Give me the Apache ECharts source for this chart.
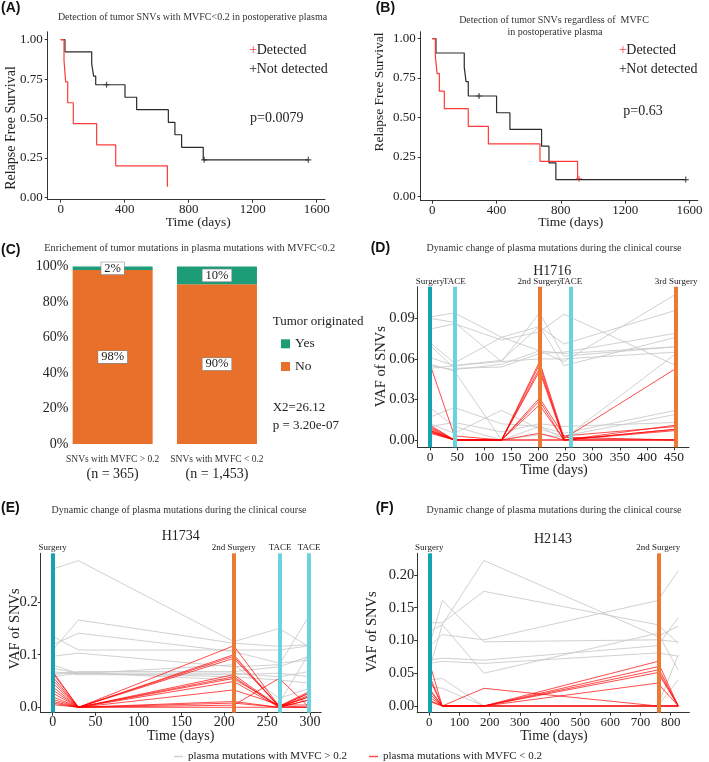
<!DOCTYPE html>
<html><head><meta charset="utf-8">
<script src="https://cdn.jsdelivr.net/npm/echarts@6/dist/echarts.min.js"></script>
<style>html,body{margin:0;padding:0;background:#fff}#c{width:709px;height:762px}</style>
</head><body><div id="c"></div>
<script>
// ---------- Panel A : KM, tumor SNVs with MVFC<0.2 ----------
const aDetDays = [0, 21, 31, 44, 79, 225, 344, 667];
const aDetSurv = [1, 0.867, 0.733, 0.6, 0.467, 0.333, 0.2, 0.067];
const aNotDays = [0, 27, 194, 206, 219, 402, 475, 673, 714, 756, 891, 1548];
const aNotSurv = [1, 0.923, 0.846, 0.769, 0.714, 0.635, 0.556, 0.476, 0.397, 0.317, 0.238, 0.238];
const aNotCensorDays = [287, 897, 1548];
const aNotCensorSurv = [0.714, 0.238, 0.238];
const aPValue = 'p=0.0079';
// ---------- Panel B : KM, regardless of MVFC ----------
const bDetDays = [0, 19, 30, 44, 75, 224, 349, 670, 904, 913];
const bDetSurv = [1, 0.889, 0.778, 0.667, 0.556, 0.444, 0.333, 0.222, 0.111, 0.111];
const bDetCensorDays = [913];
const bDetCensorSurv = [0.111];
const bNotDays = [0, 23, 199, 210, 224, 400, 483, 680, 726, 769, 1577];
const bNotSurv = [1, 0.909, 0.818, 0.727, 0.636, 0.530, 0.424, 0.318, 0.212, 0.106, 0.106];
const bNotCensorDays = [291, 1577];
const bNotCensorSurv = [0.636, 0.106];
const bPValue = 'p=0.63';
const kmTimeTicks = [0, 400, 800, 1200, 1600];
const kmSurvTicks = [0, 0.25, 0.5, 0.75, 1];
// ---------- Panel C : stacked percentages ----------
const cCategories = ['SNVs with MVFC > 0.2', 'SNVs with MVFC < 0.2'];
const cCounts = ['(n = 365)', '(n = 1,453)'];
const cNo = [98, 90];
const cYes = [2, 10];
// ---------- Panel D : H1716 ----------
const dDays = [0, 45, 132, 202, 247, 454];
const dGrey = [
  [0.091, 0.094, 0.076, 0.084, 0.071, 0.096],
  [0.090, 0.087, 0.058, 0.094, 0.062, 0.069],
  [0.082, 0.086, 0.074, 0.080, 0.093, 0.055],
  [0.072, 0.057, 0.076, 0.066, 0.058, 0.108],
  [0.070, 0.053, 0.054, 0.064, 0.065, 0.079],
  [0.061, 0.055, 0.059, 0.084, 0.055, 0.076],
  [0.055, 0.052, 0.056, 0.066, 0.064, 0.069],
  [0.053, 0.055, 0.058, 0.060, 0.060, 0.065],
  [0.056, 0.051, 0.000, 0.010, 0.001, 0.064],
  [0.017, 0.024, 0.012, 0.010, 0.005, 0.022],
  [0.012, 0.005, 0.022, 0.008, 0.003, 0.019],
  [0.010, 0.013, 0.006, 0.012, 0.010, 0.013],
  [0.024, 0.010, 0.000, 0.004, 0.002, 0.000]
];
const dRed = [
  [0.056, 0.003, 0, 0.058, 0.002, 0],
  [0.011, 0, 0, 0.056, 0, 0.011],
  [0.010, 0, 0, 0.053, 0.001, 0.053],
  [0.009, 0, 0, 0.051, 0, 0.008],
  [0.008, 0, 0, 0.031, 0.003, 0.010],
  [0.007, 0, 0, 0.029, 0, 0.007],
  [0.006, 0, 0, 0.026, 0, 0],
  [0.006, 0, 0, 0.005, 0, 0.008],
  [0.005, 0, 0, 0, 0, 0],
  [0.007, 0, 0, 0, 0, 0]
];
const dEventDays = [0, 45, 202, 260, 454];
const dEventNames = ['Surgery', 'TACE', '2nd Surgery', 'TACE', '3rd Surgery'];
const dEventKinds = ['first', 'tace', 'surgery', 'tace', 'surgery'];
const dXTicks = [0, 50, 100, 150, 200, 250, 300, 350, 400, 450];
const dYTicks = [0, 0.03, 0.06, 0.09];
// ---------- Panel E : H1734 ----------
const eDays = [0, 30, 211, 264, 299];
const eGrey = [
  [0.263, 0.279, 0.125, 0.150, 0.115],
  [0.135, 0.109, 0.109, 0.109, 0.117],
  [0.109, 0.166, 0.122, 0.116, 0.119],
  [0.119, 0.141, 0.106, 0.084, 0.090],
  [0.097, 0.103, 0.077, 0.081, 0.174],
  [0.074, 0.065, 0.065, 0.058, 0.068],
  [0.068, 0.062, 0.062, 0.065, 0.058],
  [0.062, 0.068, 0.068, 0.077, 0.097],
  [0.058, 0.065, 0.058, 0.052, 0.046],
  [0.065, 0.066, 0.052, 0.008, 0.103],
  [0.081, 0.064, 0.081, 0.017, 0.036]
];
const eRed = [
  [0.068, 0, 0.117, 0.002, 0.030],
  [0.065, 0, 0.100, 0.001, 0.027],
  [0.058, 0, 0.097, 0.000, 0.023],
  [0.052, 0, 0.093, 0.003, 0.000],
  [0.046, 0, 0.062, 0.001, 0.020],
  [0.039, 0, 0.058, 0.000, 0.014],
  [0.033, 0, 0.055, 0.002, 0.027],
  [0.027, 0, 0.049, 0.000, 0.000],
  [0.020, 0, 0.033, 0.005, 0.004],
  [0.015, 0, 0.011, 0.000, 0.000],
  [0.011, 0, 0.008, 0.000, 0.020],
  [0.008, 0, 0.004, 0.055, 0.000],
  [0.005, 0, 0.000, 0.000, 0.014]
];
const eEventDays = [0, 211, 265, 299];
const eEventNames = ['Surgery', '2nd Surgery', 'TACE', 'TACE'];
const eEventKinds = ['first', 'surgery', 'tace', 'tace'];
const eXTicks = [0, 50, 100, 150, 200, 250, 300];
const eYTicks = [0, 0.1, 0.2];
// ---------- Panel F : H2143 ----------
const fDays = [0, 43, 181, 757, 825];
const fGrey = [
  [0.114, 0.124, 0.222, 0.106, 0.122],
  [0.127, 0.127, 0.175, 0.124, 0.096],
  [0.091, 0.161, 0.098, 0.101, 0.098],
  [0.091, 0.109, 0.101, 0.161, 0.206],
  [0.070, 0.073, 0.070, 0.092, 0.135],
  [0.065, 0.068, 0.065, 0.081, 0.076],
  [0.055, 0.124, 0.050, 0.111, 0.055],
  [0.040, 0.042, 0.000, 0.000, 0.078],
  [0.030, 0.027, 0.000, 0.000, 0.040]
];
const fRed = [
  [0.067, 0, 0, 0.068, 0],
  [0.047, 0, 0, 0.060, 0],
  [0.042, 0, 0, 0.055, 0],
  [0.027, 0, 0, 0.051, 0],
  [0.024, 0, 0.027, 0.000, 0],
  [0.019, 0, 0, 0.035, 0],
  [0.014, 0, 0, 0, 0],
  [0.009, 0, 0, 0, 0],
  [0.007, 0, 0, 0, 0]
];
const fEventDays = [0, 759];
const fEventNames = ['Surgery', '2nd Surgery'];
const fEventKinds = ['first', 'surgery'];
const fXTicks = [0, 100, 200, 300, 400, 500, 600, 700, 800];
const fYTicks = [0, 0.05, 0.10, 0.15, 0.20];

const GREY_NAME = 'plasma mutations with MVFC > 0.2';
const RED_NAME = 'plasma mutations with MVFC < 0.2';

// ---------- styling ----------
const SERIF = 'Liberation Serif';
const RED = '#ff3a3a', BLACK = '#2a2a2a';
const GREY_LINE = 'rgba(200,200,200,0.85)', RED_LINE = 'rgba(255,0,0,0.7)';
const EVENT_COLORS = { first: '#15A3B4', tace: '#6AD3DE', surgery: '#EC7A34' };
const PLUS = 'path://M4,0H6V4H10V6H6V10H4V6H0V4H4Z';
const AX = '#333';

const zip = (a, b) => a.map((d, i) => [d, b[i]]);

function valAxis(gi, min, max, ticks, fmt, size, margin, extra) {
  return Object.assign({
    gridIndex: gi, type: 'value', min, max, scale: false,
    axisLine: { show: true, onZero: false, lineStyle: { color: AX, width: 1 } },
    axisTick: { show: true, length: 3, customValues: ticks, lineStyle: { color: AX } },
    axisLabel: { customValues: ticks, formatter: fmt, fontSize: size, fontFamily: SERIF, color: '#222', margin },
    splitLine: { show: false }
  }, extra || {});
}

const grids = [
  { left: 47.7, top: 31.8, width: 277.3, height: 167.9 },
  { left: 420.7, top: 31.7, width: 277.1, height: 169 },
  { left: 60.5, top: 266.5, width: 208.6, height: 177.5 },
  { left: 417.7, top: 286.7, width: 271.3, height: 160.6 },
  { left: 40.7, top: 553.3, width: 280.5, height: 159.4 },
  { left: 417.2, top: 553.3, width: 272.2, height: 159.4 }
].map(g => Object.assign({ containLabel: false, outerBoundsMode: 'none' }, g));

const f2 = v => v.toFixed(2), f1 = v => v.toFixed(1);

const xAxes = [
  valAxis(0, -81, 1652, kmTimeTicks, v => String(v), 13, 3),
  valAxis(1, -72, 1652, kmTimeTicks, v => String(v), 13, 3),
  { gridIndex: 2, type: 'category', data: cCategories,
    axisLine: { show: false }, axisTick: { show: false },
    axisLabel: { margin: 9, interval: 0,
      formatter: (v, i) => '{a|' + v + '}\n{b|' + cCounts[i] + '}',
      rich: { a: { fontSize: 9.5, fontFamily: SERIF, color: '#333', lineHeight: 13 },
              b: { fontSize: 14, fontFamily: SERIF, color: '#222', lineHeight: 17 } } } },
  valAxis(3, -22.75, 477.75, dXTicks, v => String(v), 13.5, 3),
  valAxis(4, -14, 313, eXTicks, v => String(v), 14, 3),
  valAxis(5, -40, 862, fXTicks, v => String(v), 13, 3)
];
const yAxes = [
  valAxis(0, -0.015, 1.05, kmSurvTicks, f2, 13, 5),
  valAxis(1, -0.028, 1.044, kmSurvTicks, f2, 13, 5),
  { gridIndex: 2, type: 'value', min: 0, max: 100, interval: 20,
    axisLine: { show: false }, axisTick: { show: false }, splitLine: { show: false },
    axisLabel: { formatter: '{value}%', fontSize: 14, fontFamily: SERIF, color: '#222', margin: -8 } },
  valAxis(3, -0.0054, 0.1134, dYTicks, f2, 14.5, 3),
  valAxis(4, -0.0103, 0.293, eYTicks, f1, 14.5, 3),
  valAxis(5, -0.0102, 0.233, fYTicks, f2, 14.5, 3)
];

const series = [];
function km(gi, days, surv, color) {
  series.push({ type: 'line', step: 'end', xAxisIndex: gi, yAxisIndex: gi, data: zip(days, surv),
    symbol: 'none', silent: true, lineStyle: { color, width: 1.2 }, itemStyle: { color } });
}
function censor(gi, days, surv, color) {
  series.push({ type: 'scatter', xAxisIndex: gi, yAxisIndex: gi, data: zip(days, surv),
    symbol: PLUS, symbolSize: 6, silent: true, itemStyle: { color } });
}
km(0, aNotDays, aNotSurv, BLACK); censor(0, aNotCensorDays, aNotCensorSurv, BLACK);
km(0, aDetDays, aDetSurv, RED);
km(1, bNotDays, bNotSurv, BLACK); censor(1, bNotCensorDays, bNotCensorSurv, BLACK);
km(1, bDetDays, bDetSurv, RED); censor(1, bDetCensorDays, bDetCensorSurv, RED);

const barLabel = { show: true, position: 'inside', formatter: '{c}%', color: '#222', fontSize: 12.5,
  fontFamily: SERIF, backgroundColor: '#fff', borderColor: '#888', borderWidth: 0.6, padding: [0, 3], lineHeight: 12 };
series.push({ type: 'bar', name: 'No', stack: 'c', xAxisIndex: 2, yAxisIndex: 2, data: cNo, barWidth: 80,
  itemStyle: { color: '#E8702A' }, label: barLabel, silent: true });
series.push({ type: 'bar', name: 'Yes', stack: 'c', xAxisIndex: 2, yAxisIndex: 2, data: cYes, barWidth: 80,
  itemStyle: { color: '#1C9C77' }, label: barLabel, silent: true });

function lines(gi, days, rows, name, color) {
  rows.forEach(r => series.push({ type: 'line', name, xAxisIndex: gi, yAxisIndex: gi,
    data: zip(days, r), symbol: 'none', silent: true,
    lineStyle: { color, width: 1 }, itemStyle: { color } }));
}
function events(gi, days, names, kinds) {
  series.push({ type: 'line', name: 'events' + gi, xAxisIndex: gi, yAxisIndex: gi, data: [], silent: true,
    markLine: { silent: true, symbol: ['none', 'none'], animation: false,
      label: { show: true, position: 'end', formatter: '{b}', color: '#222', fontSize: 9, fontFamily: SERIF, distance: 1 },
      lineStyle: { width: 4, type: 'solid', opacity: 1 },
      data: days.map((d, i) => ({ xAxis: d, name: names[i], lineStyle: { color: EVENT_COLORS[kinds[i]], width: 4, type: 'solid' } })) } });
}
lines(3, dDays, dGrey, GREY_NAME, GREY_LINE); lines(3, dDays, dRed, RED_NAME, RED_LINE);
events(3, dEventDays, dEventNames, dEventKinds);
lines(4, eDays, eGrey, GREY_NAME, GREY_LINE); lines(4, eDays, eRed, RED_NAME, RED_LINE);
events(4, eEventDays, eEventNames, eEventKinds);
lines(5, fDays, fGrey, GREY_NAME, GREY_LINE); lines(5, fDays, fRed, RED_NAME, RED_LINE);
events(5, fEventDays, fEventNames, fEventKinds);

function T(x, y, text, size, o) {
  o = o || {};
  return { type: 'text', x, y, rotation: o.rot || 0, silent: true, z: 10,
    style: { text, fill: o.color || '#222',
      font: (o.bold ? 'bold ' : '') + size + 'px "' + (o.fam || SERIF) + '"',
      textAlign: o.align || 'center', textVerticalAlign: 'middle' } };
}
const R = Math.PI / 2;
const graphics = [
  T(1, 8.5, '(A)', 14, { bold: true, fam: 'Liberation Sans', align: 'left', color: '#111' }),
  T(375.7, 8.5, '(B)', 14, { bold: true, fam: 'Liberation Sans', align: 'left', color: '#111' }),
  T(1, 250, '(C)', 14, { bold: true, fam: 'Liberation Sans', align: 'left', color: '#111' }),
  T(370.7, 248.3, '(D)', 14, { bold: true, fam: 'Liberation Sans', align: 'left', color: '#111' }),
  T(1, 508.3, '(E)', 14, { bold: true, fam: 'Liberation Sans', align: 'left', color: '#111' }),
  T(375.7, 508.3, '(F)', 14, { bold: true, fam: 'Liberation Sans', align: 'left', color: '#111' }),
  T(192.5, 17.3, 'Detection of tumor SNVs with MVFC<0.2 in postoperative plasma', 10, { color: '#333' }),
  T(554, 20.7, 'Detection of tumor SNVs regardless of  MVFC', 10, { color: '#333' }),
  T(555, 32.3, 'in postoperative plasma', 10, { color: '#333' }),
  T(189.7, 248.3, 'Enrichement of tumor mutations in plasma mutations with MVFC<0.2', 10.3, { color: '#333' }),
  T(554, 248.3, 'Dynamic change of plasma mutations during the clinical course', 10, { color: '#333' }),
  T(179, 510, 'Dynamic change of plasma mutations during the clinical course', 10, { color: '#333' }),
  T(554, 510.7, 'Dynamic change of plasma mutations during the clinical course', 10, { color: '#333' }),
  T(552.3, 271, 'H1716', 14), T(180.7, 536.7, 'H1734', 14), T(553, 539, 'H2143', 14),
  T(11.7, 128, 'Relapse Free Survival', 14, { rot: R }),
  T(198.3, 222.3, 'Time (days)', 13.5),
  T(379, 92, 'Relapse Free Survival', 13.5, { rot: R }),
  T(570.7, 222.3, 'Time (days)', 13.5),
  T(381.3, 366.7, 'VAF of SNVs', 14.5, { rot: R }),
  T(554, 470, 'Time (days)', 14),
  T(15, 629, 'VAF of SNVs', 14.5, { rot: R }),
  T(180.7, 736.7, 'Time (days)', 14),
  T(372.3, 632, 'VAF of SNVs', 14.5, { rot: R }),
  T(554, 736.7, 'Time (days)', 14),
  T(249.3, 50, '+', 14, { align: 'left', color: RED }), T(256.7, 50, 'Detected', 14, { align: 'left' }),
  T(249.3, 69.3, '+', 14, { align: 'left', color: BLACK }), T(256.7, 69.3, 'Not detected', 14, { align: 'left' }),
  T(250, 118.3, aPValue, 14, { align: 'left' }),
  T(619, 50, '+', 14, { align: 'left', color: RED }), T(626.3, 50, 'Detected', 14, { align: 'left' }),
  T(619, 69.3, '+', 14, { align: 'left', color: BLACK }), T(626.3, 69.3, 'Not detected', 14, { align: 'left' }),
  T(623.3, 111.7, bPValue, 14, { align: 'left' }),
  T(272.7, 321.7, 'Tumor originated', 13, { align: 'left' }),
  T(272.7, 407.7, 'X2=26.12', 13, { align: 'left' }),
  T(272.7, 425.7, 'p = 3.20e-07', 13, { align: 'left' })
];

const chart = echarts.init(document.getElementById('c'), null, { renderer: 'canvas' });
chart.setOption({
  animation: false,
  backgroundColor: '#fff',
  textStyle: { fontFamily: SERIF },
  grid: grids, xAxis: xAxes, yAxis: yAxes, series,
  legend: [
    { data: ['Yes', 'No'], orient: 'vertical', left: 276, top: 331.8, itemWidth: 9, itemHeight: 9, itemGap: 8.7,
      icon: 'rect', selectedMode: false, textStyle: { fontSize: 13.5, fontFamily: SERIF, color: '#222', lineHeight: 13 } },
    { data: [GREY_NAME, RED_NAME], orient: 'horizontal', left: 174, top: 750.5, padding: 0, itemWidth: 9, itemHeight: 1.5,
      itemGap: 22, icon: 'rect', selectedMode: false,
      textStyle: { fontSize: 11, fontFamily: SERIF, color: '#222', lineHeight: 12 } }
  ],
  graphic: graphics
});
</script></body></html>
